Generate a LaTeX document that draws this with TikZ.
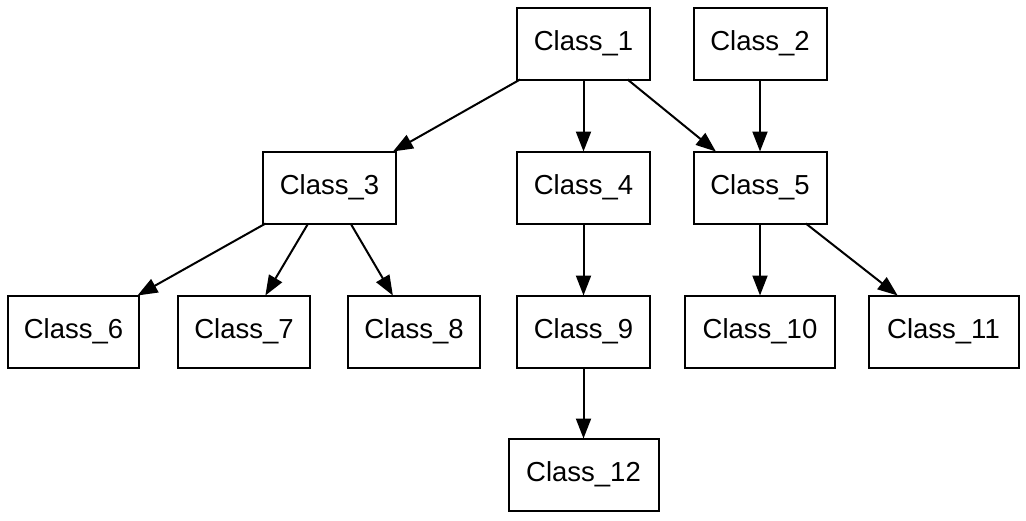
\documentclass[tikz,border=0pt]{standalone}
\usepackage{fontspec}
\setmainfont{Liberation Sans}
\usetikzlibrary{arrows.meta}
\begin{document}
\begin{tikzpicture}[x=1pt,y=-1pt,
  cls/.style={draw=black, line width=2pt, fill=white, minimum width=133pt,
    minimum height=72pt, inner sep=0pt, outer sep=0pt,
    font=\fontsize{27.5}{32}\selectfont},
  wide/.style={cls, minimum width=150pt},
  edge/.style={line width=2pt, -{Triangle[length=20pt,width=15pt]}}]
  \useasboundingbox (0,0) rectangle (1026,520);
  % top row
  \node[cls] (c1) at (583.5,43.5) {Class\_1};
  \node[cls] (c2) at (760,43.5) {Class\_2};
  % second row
  \node[cls] (c3) at (329.5,187.5) {Class\_3};
  \node[cls] (c4) at (583.5,187.5) {Class\_4};
  \node[cls] (c5) at (760,187.5) {Class\_5};
  % third row
  \node[cls, minimum width=131pt] (c6) at (73.5,331.5) {Class\_6};
  \node[cls, minimum width=132pt] (c7) at (244,331.5) {Class\_7};
  \node[cls, minimum width=132pt] (c8) at (414,331.5) {Class\_8};
  \node[cls] (c9) at (583.5,331.5) {Class\_9};
  \node[wide] (c10) at (760,331.5) {Class\_10};
  \node[wide] (c11) at (943.5,331.5) {Class\_11};
  % bottom row
  \node[wide] (c12) at (583.5,474.5) {Class\_12};
  % inheritance edges
  \draw[edge] (c1) -- (c3);
  \draw[edge] (c1) -- (c4);
  \draw[edge] (c1) -- (c5);
  \draw[edge] (c2) -- (c5);
  \draw[edge] (c3) -- (c6);
  \draw[edge] (c3) -- (c7);
  \draw[edge] (c3) -- (c8);
  \draw[edge] (c4) -- (c9);
  \draw[edge] (c5) -- (c10);
  \draw[edge] (c5) -- (c11);
  \draw[edge] (c9) -- (c12);
\end{tikzpicture}
\end{document}
